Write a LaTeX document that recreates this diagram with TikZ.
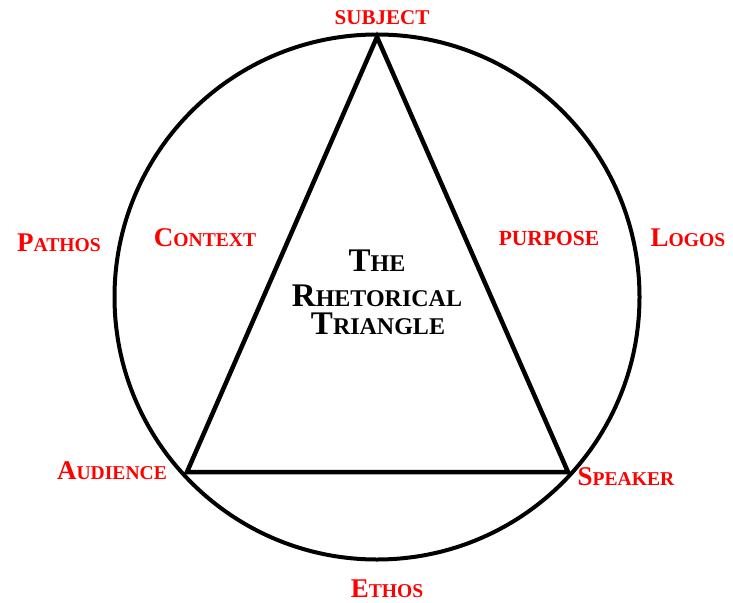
\documentclass[tikz,border=0pt]{standalone}
\usepackage{fontspec}
\setmainfont{Liberation Serif}
% finte maiuscolette: iniziale grande, resto piccolo
\newcommand{\fsc}[2]{{\fontsize{27}{27}\selectfont #1}{\fontsize{19.6}{20}\selectfont #2}}
\newcommand{\bsc}[2]{{\fontsize{33}{33}\selectfont #1}{\fontsize{24}{24}\selectfont #2}}

\begin{document}
\begin{tikzpicture}[x=1pt, y=-1pt, every node/.style={inner sep=0pt, anchor=base}, lbl/.style={text=red, font=\bfseries}, ttl/.style={text=black, font=\bfseries}]
			\useasboundingbox (0,0) rectangle (733,602);
			% Cerchio e triangolo
			\node (ring) at (377,297) [circle, draw, line width=4pt, minimum size=525pt, outer sep=0pt, anchor=center] {};
			\coordinate (apex) at (377,37);
			\coordinate (lvx) at (187,472);
			\coordinate (rvx) at (568,472);
			\draw[line width=4.5pt] (apex) -- (lvx) -- (rvx) -- cycle;
			
			% Etichette rosse
			\node (subject) at (382,25) [lbl] {\fsc{}{\fontsize{21}{21}\selectfont SUBJECT}};
			\node (pathos) at (59,251) [lbl] {\fsc{P}{ATHOS}};
			\node (context) at (205,246) [lbl] {\fsc{C}{ONTEXT}};
			\node (purpose) at (549,245) [lbl] {\fsc{}{\fontsize{21.5}{21}\selectfont PURPOSE}};
			\node (logos) at (688,246) [lbl] {\fsc{L}{OGOS}};
			\node (audience) at (112,479) [lbl] {\fsc{A}{UDIENCE}};
			\node (speaker) at (626,485) [lbl] {\fsc{S}{PEAKER}};
			\node (ethos) at (387,597) [lbl] {\fsc{E}{THOS}};
			
			% Titolo
			\node (ttl1) at (377,271) [ttl] {\bsc{T}{HE}};
			\node (ttl2) at (377,306) [ttl] {\bsc{R}{HETORICAL}};
			\node (ttl3) at (378,334) [ttl] {\bsc{T}{RIANGLE}};
		\end{tikzpicture}
\end{document}
